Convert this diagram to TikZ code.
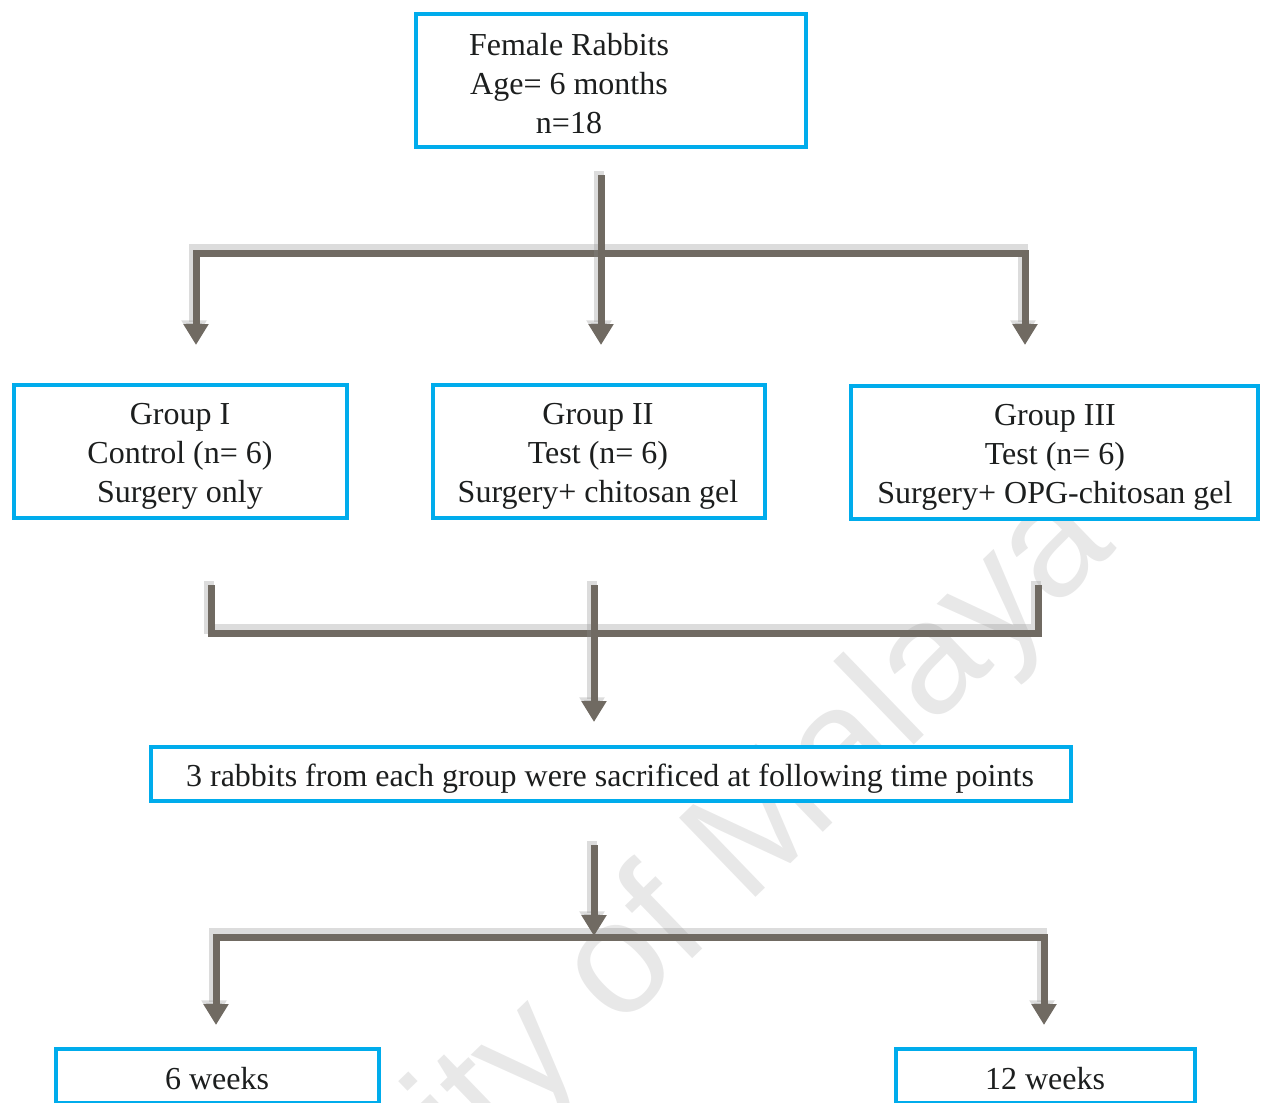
\documentclass[tikz,border=0pt]{standalone}
\usepackage{fontspec}
\setmainfont{Liberation Serif}
\newfontfamily\wmfont{Liberation Sans}
\usetikzlibrary{arrows.meta}
\definecolor{boxcyan}{RGB}{0,172,236}
\definecolor{conncol}{RGB}{112,106,98}
\definecolor{txtcol}{RGB}{28,30,30}
\tikzset{
  box/.style={draw=boxcyan, line width=2pt, fill=white, inner sep=0pt},
  txt/.style={align=center, inner sep=0pt, text=txtcol, font=\fontsize{16}{19.5}\selectfont},
  conn/.style={draw=conncol, line width=3.5pt, line join=miter, line cap=butt,
    preaction={draw=black!45, opacity=0.3, line width=5pt, transform canvas={shift={(-1pt,1.8pt)}}}},
  tipd/.tip={Triangle[width=12pt,length=10.5pt]}
}
\begin{document}
\begin{tikzpicture}[x=0.5pt,y=-0.5pt]
\useasboundingbox (0,0) rectangle (1264,1103);
\begin{scope}
\clip (0,0) rectangle (1264,1103);
\node[rotate=44, anchor=base east, text=black!9, font=\wmfont\fontsize{80}{80}\selectfont, inner sep=0pt] (wm) at (1118,548) {University of Malaya};
\end{scope}

% boxes
\node[box, minimum width=195pt, minimum height=66.5pt] (top) at (611,80.5) {};
\node[txt] (toptxt) at (569,84) {Female Rabbits\\Age= 6 months\\n=18};

\node[box, minimum width=166.5pt, minimum height=66.5pt] (g1) at (180.5,451.5) {};
\node[txt] (g1txt) at (180,456) {Group I\\Control (n= 6)\\Surgery only};

\node[box, minimum width=166pt, minimum height=66.5pt] (g2) at (599,451.5) {};
\node[txt] (g2txt) at (598,456) {Group II\\Test (n= 6)\\Surgery+ chitosan gel};

\node[box, minimum width=203.5pt, minimum height=66.5pt] (g3) at (1054.5,452.5) {};
\node[txt] (g3txt) at (1055,457) {Group III\\Test (n= 6)\\Surgery+ OPG-chitosan gel};

\node[box, minimum width=460pt, minimum height=27pt] (mid) at (611,774) {};
\node[txt] (midtxt) at (610,779) {3 rabbits from each group were sacrificed at following time points};

\node[box, minimum width=161.5pt, minimum height=27pt] (w6) at (217.5,1076) {};
\node[txt] (w6txt) at (217,1079) {6 weeks};

\node[box, minimum width=149.5pt, minimum height=27pt] (w12) at (1045.5,1076) {};
\node[txt] (w12txt) at (1045,1079) {12 weeks};

% connector points
\coordinate (a0) at (601,175);
\coordinate (a1) at (601,345);
\coordinate (aL) at (196,253);
\coordinate (aR) at (1025,253);
\coordinate (aLt) at (196,345);
\coordinate (aRt) at (1025,345);

\coordinate (b1) at (211,585);
\coordinate (b1d) at (211,633);
\coordinate (b3) at (1038,585);
\coordinate (b3d) at (1038,633);
\coordinate (b2) at (594,585);
\coordinate (b2t) at (594,722);

\coordinate (c0) at (594,845);
\coordinate (c1) at (594,936);
\coordinate (cL) at (216,937);
\coordinate (cR) at (1044,937);
\coordinate (cLt) at (216,1025);
\coordinate (cRt) at (1044,1025);

% connectors
\draw[conn, {tipd}-{tipd}] (aLt) -- (aL) -- (aR) -- (aRt);
\draw[conn, -{tipd}] (a0) -- (a1);

\draw[conn] (b1) -- (b1d) -- (b3d) -- (b3);
\draw[conn, -{tipd}] (b2) -- (b2t);

\draw[conn, {tipd}-{tipd}] (cLt) -- (cL) -- (cR) -- (cRt);
\draw[conn, -{tipd}] (c0) -- (c1);
\end{tikzpicture}
\end{document}
